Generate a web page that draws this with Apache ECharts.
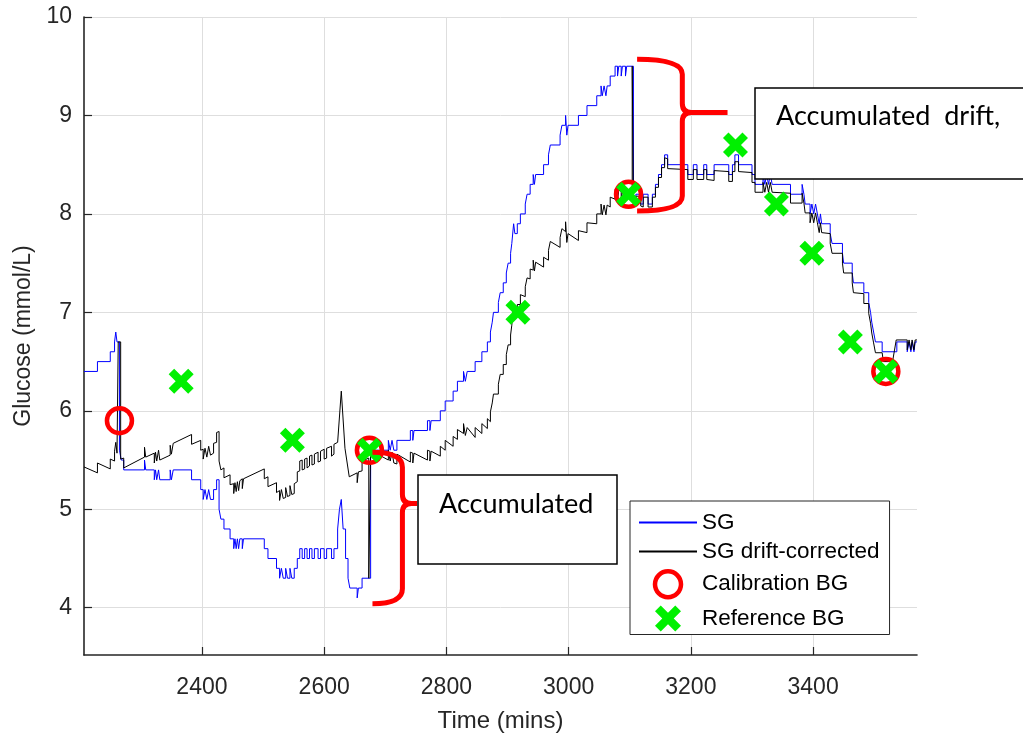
<!DOCTYPE html>
<html>
<head>
<meta charset="utf-8">
<title>Glucose drift correction</title>
<script src="https://cdn.jsdelivr.net/npm/echarts@6/dist/echarts.min.js"></script>
<style>
  html, body { margin: 0; padding: 0; background: #ffffff; }
  #chart { width: 1023px; height: 738px; }
</style>
</head>
<body>
<div id="chart"></div>
<script>
// Axis ticks
const timeTicks = [2400, 2600, 2800, 3000, 3200, 3400];
const glucoseTicks = [4, 5, 6, 7, 8, 9, 10];

// Sensor glucose (SG) as step breakpoints [time (min), mmol/L]; each value holds until the next point
const sgSeries = [
  [2207,6.4],[2229,6.5],[2250,6.6],[2257,6.7],[2259,6.8],[2261,6.7],[2265,5.6],[2268,5.5],[2272,5.4],
  [2306,5.5],[2308,5.4],[2322,5.3],[2324,5.4],[2326,5.3],[2329,5.4],[2331,5.3],[2348,5.4],[2350,5.3],[2353,5.4],
  [2383,5.3],[2398,5.2],[2402,5.1],[2405,5.2],[2408,5.1],[2411,5.2],[2414,5.1],[2419,5.2],[2424,5.3],
  [2428,5.0],[2431,4.9],[2436,4.8],[2446,4.7],[2452,4.6],[2454,4.7],[2456,4.6],[2458,4.7],[2460,4.6],[2462,4.7],[2466,4.6],[2468,4.7],
  [2502,4.6],[2508,4.5],[2522,4.4],[2527,4.3],[2530,4.4],[2533,4.3],[2537,4.4],[2540,4.3],[2544,4.4],[2547,4.3],[2551,4.4],
  [2556,4.5],[2560,4.6],[2564,4.5],[2568,4.6],[2572,4.5],[2576,4.6],[2580,4.5],[2584,4.6],[2590,4.5],[2594,4.6],[2600,4.5],[2604,4.6],[2612,4.5],[2616,4.6],
  [2622,4.8],[2625,5.0],[2628,5.1],[2631,4.8],[2635,4.5],[2639,4.3],[2642,4.2],[2654,4.1],[2656,4.2],[2662,4.3],[2676,5.6],
  [2705,5.7],[2708,5.6],[2711,5.7],[2714,5.6],[2719,5.7],[2741,5.8],[2745,5.7],[2747,5.8],[2769,5.9],[2773,5.8],[2775,5.9],
  [2790,6.0],[2798,6.1],[2811,6.2],[2818,6.3],[2828,6.4],[2831,6.3],[2834,6.4],[2847,6.5],[2858,6.6],[2867,6.7],[2872,6.8],[2875,6.9],[2877,7.0],
  [2885,7.1],[2888,7.2],[2893,7.3],[2898,7.4],[2901,7.5],[2905,7.6],[2907,7.7],[2910,7.9],[2912,7.8],[2916,7.9],[2921,8.0],
  [2929,8.1],[2932,8.2],[2937,8.3],[2942,8.4],[2944,8.3],[2946,8.4],[2959,8.5],[2967,8.6],[2970,8.7],[2986,8.8],[2989,8.9],[2995,9.0],[2997,8.8],[2999,8.9],
  [3016,9.0],[3030,9.1],[3046,9.2],[3053,9.3],[3055,9.2],[3058,9.3],[3061,9.2],[3063,9.3],[3068,9.4],[3076,9.5],[3080,9.4],[3082,9.5],[3086,9.4],[3088,9.5],[3093,9.4],[3095,9.5],
  [3106,8.1],[3110,8.2],[3118,8.1],[3122,8.2],[3130,8.1],[3137,8.2],[3142,8.3],[3147,8.4],[3152,8.5],[3157,8.6],[3162,8.5],
  [3195,8.4],[3204,8.5],[3210,8.4],[3221,8.5],[3226,8.4],[3238,8.5],[3262,8.4],[3268,8.5],[3272,8.6],[3278,8.5],
  [3300,8.4],[3305,8.3],[3318,8.4],[3321,8.3],[3324,8.4],[3327,8.3],[3330,8.4],[3333,8.3],[3363,8.2],[3382,8.3],[3385,8.2],[3387,8.1],
  [3395,8.0],[3398,8.1],[3401,8.0],[3404,8.1],[3407,8.0],[3410,7.9],[3412,8.0],[3414,7.9],[3428,7.8],[3431,7.7],[3448,7.6],[3450,7.5],
  [3464,7.4],[3466,7.3],[3483,7.2],[3491,7.1],[3494,7.0],[3496,6.9],[3499,6.8],[3502,6.7],[3513,6.6],[3537,6.7],
  [3554,6.6],[3557,6.7],[3560,6.6],[3562,6.7],[3565,6.6],[3567,6.7],[3570,6.7]
];

// Drift-corrected SG as line vertices [time (min), mmol/L]
const driftSeries = [
  [2207,5.43],[2229,5.37],[2229,5.47],[2250,5.41],[2250,5.51],[2257,5.49],[2257,5.59],[2259,5.58],[2259,5.68],[2261,5.67],[2261,5.57],[2263,5.57],[2263,6.70],[2267,6.70],[2267,5.51],[2272,5.52],[2272,5.42],
  [2306,5.53],[2306,5.63],[2308,5.63],[2308,5.53],[2322,5.57],[2322,5.47],[2324,5.48],[2324,5.58],[2326,5.59],[2326,5.49],[2329,5.50],[2329,5.60],[2331,5.60],[2331,5.50],
  [2348,5.55],[2348,5.65],[2350,5.66],[2350,5.56],[2353,5.57],[2353,5.67],[2383,5.76],[2383,5.66],[2398,5.70],[2398,5.60],[2402,5.61],[2402,5.51],[2405,5.52],[2405,5.62],
  [2408,5.63],[2408,5.53],[2411,5.54],[2411,5.64],[2414,5.65],[2414,5.55],[2419,5.57],[2419,5.67],[2424,5.68],[2424,5.78],[2428,5.79],[2428,5.49],[2431,5.50],[2431,5.40],
  [2436,5.42],[2436,5.32],[2446,5.35],[2446,5.25],[2452,5.26],[2452,5.16],[2454,5.17],[2454,5.27],[2456,5.28],[2456,5.18],[2458,5.18],[2458,5.28],[2460,5.29],[2460,5.19],
  [2462,5.19],[2462,5.29],[2466,5.31],[2466,5.21],[2468,5.21],[2468,5.31],[2502,5.41],[2502,5.31],[2508,5.33],[2508,5.23],[2522,5.27],[2522,5.17],[2527,5.19],[2527,5.09],
  [2530,5.10],[2530,5.20],[2533,5.21],[2533,5.11],[2537,5.12],[2537,5.22],[2540,5.23],[2540,5.13],[2544,5.14],[2544,5.24],[2547,5.25],[2547,5.15],[2551,5.16],[2551,5.26],
  [2556,5.28],[2556,5.38],[2560,5.39],[2560,5.49],[2564,5.50],[2564,5.40],[2568,5.41],[2568,5.51],[2572,5.52],[2572,5.42],[2576,5.44],[2576,5.54],[2580,5.55],[2580,5.45],
  [2584,5.46],[2584,5.56],[2590,5.58],[2590,5.48],[2594,5.49],[2594,5.59],[2600,5.61],[2600,5.51],[2604,5.52],[2604,5.62],[2612,5.64],[2612,5.54],[2616,5.56],[2616,5.66],
  [2622,5.68],[2628,6.20],[2634,5.62],[2641,5.33],[2654,5.37],[2654,5.27],[2656,5.28],[2656,5.38],[2662,5.39],[2662,5.49],[2673,5.52],[2673,4.30],[2676,4.30],[2676,5.60],
  [2705,5.50],[2705,5.60],[2708,5.59],[2708,5.49],[2711,5.48],[2711,5.58],[2714,5.57],[2714,5.47],[2719,5.46],[2719,5.56],[2741,5.48],[2741,5.58],[2745,5.57],[2745,5.47],
  [2747,5.47],[2747,5.57],[2769,5.50],[2769,5.60],[2773,5.59],[2773,5.49],[2775,5.49],[2775,5.59],[2790,5.54],[2790,5.64],[2798,5.60],[2798,5.70],[2811,5.64],[2811,5.74],
  [2818,5.71],[2818,5.81],[2828,5.77],[2828,5.87],[2831,5.85],[2831,5.75],[2834,5.73],[2834,5.83],[2847,5.73],[2847,5.83],[2858,5.77],[2858,5.87],[2867,5.82],[2867,5.92],
  [2872,5.89],[2872,5.99],[2875,5.98],[2875,6.08],[2877,6.07],[2877,6.17],[2885,6.17],[2885,6.27],[2888,6.27],[2888,6.37],[2893,6.37],[2893,6.47],[2898,6.47],[2898,6.57],
  [2901,6.57],[2901,6.67],[2905,6.67],[2905,6.77],[2907,6.77],[2907,6.87],[2910,6.88],[2910,7.08],[2912,7.08],[2912,6.98],[2916,6.98],[2916,7.08],[2921,7.08],[2921,7.18],
  [2929,7.16],[2929,7.26],[2932,7.25],[2932,7.35],[2937,7.34],[2937,7.44],[2942,7.43],[2942,7.53],[2944,7.52],[2944,7.42],[2946,7.41],[2946,7.51],[2959,7.46],[2959,7.56],
  [2967,7.53],[2967,7.63],[2970,7.62],[2970,7.72],[2986,7.66],[2986,7.76],[2989,7.75],[2989,7.85],[2995,7.82],[2995,7.92],[2997,7.91],[2997,7.71],[2999,7.70],[2999,7.80],
  [3016,7.73],[3016,7.83],[3030,7.81],[3030,7.91],[3046,7.90],[3046,8.00],[3053,8.00],[3053,8.10],[3055,8.09],[3055,7.99],[3058,7.99],[3058,8.09],[3061,8.09],[3061,7.99],
  [3063,7.99],[3063,8.09],[3068,8.07],[3068,8.17],[3076,8.15],[3076,8.25],[3080,8.24],[3080,8.14],[3082,8.14],[3082,8.24],[3086,8.23],[3086,8.13],[3088,8.13],[3088,8.23],
  [3093,8.22],[3093,8.12],[3095,8.12],[3095,8.22],[3104,8.20],[3104,9.50],[3106,9.50],[3106,8.10],
  [3110,8.08],[3110,8.18],[3118,8.18],[3118,8.08],[3122,8.07],[3122,8.17],[3130,8.17],[3130,8.07],[3137,8.07],[3137,8.17],[3142,8.17],[3142,8.27],
  [3147,8.27],[3147,8.37],[3152,8.37],[3152,8.47],[3157,8.47],[3157,8.57],[3162,8.56],[3162,8.46],[3195,8.45],[3195,8.35],[3204,8.35],[3204,8.45],
  [3210,8.45],[3210,8.35],[3221,8.35],[3221,8.45],[3226,8.45],[3226,8.35],[3238,8.34],[3238,8.44],[3262,8.43],[3262,8.33],[3268,8.33],[3268,8.43],
  [3272,8.43],[3272,8.53],[3278,8.53],[3278,8.43],[3300,8.42],[3300,8.32],[3305,8.32],[3305,8.22],[3318,8.22],[3318,8.32],[3321,8.32],[3321,8.22],
  [3324,8.22],[3324,8.32],[3327,8.32],[3327,8.22],[3330,8.22],[3330,8.32],[3333,8.32],[3333,8.22],[3363,8.21],[3363,8.11],[3382,8.11],[3382,8.21],
  [3385,8.21],[3385,8.11],[3387,8.11],[3387,8.01],[3395,8.01],[3395,7.91],[3398,7.91],[3398,8.01],[3401,8.01],[3401,7.91],[3404,7.91],[3404,8.01],
  [3407,8.01],[3407,7.91],[3410,7.91],[3410,7.81],[3412,7.81],[3412,7.91],[3414,7.91],[3414,7.81],[3428,7.80],[3428,7.70],[3431,7.70],[3431,7.60],
  [3448,7.60],[3448,7.50],[3450,7.50],[3450,7.40],[3464,7.40],[3464,7.30],[3466,7.30],[3466,7.20],[3483,7.19],[3483,7.09],[3491,7.09],[3491,6.99],
  [3494,6.99],[3494,6.89],[3496,6.89],[3496,6.79],[3499,6.79],[3499,6.69],[3502,6.69],[3502,6.59],[3513,6.59],[3515,6.50],[3530,6.50],[3536,6.72],
  [3554,6.72],[3554,6.62],[3557,6.62],[3557,6.72],[3560,6.72],[3560,6.62],[3562,6.62],[3562,6.72],[3565,6.72],[3565,6.62],[3567,6.62],[3567,6.72],[3570,6.72]
];

// Finger-stick blood glucose [time (min), mmol/L]
const calibrationBG = [[2265,5.9],[2674,5.6],[3098,8.2],[3519,6.4]];
const referenceBG = [[2366,6.3],[2548,5.7],[2674,5.6],[2917,7.0],[3098,8.2],[3273,8.7],[3340,8.1],[3398,7.6],[3461,6.7],[3519,6.4]];

// Drift braces: [arm start time, spine time, tip time, top mmol/L, tip mmol/L, bottom mmol/L]
const driftBraces = [
  [2679, 2728, 2752, 5.58, 5.06, 4.04],
  [3112, 3186, 3260, 9.57, 9.03, 8.03]
];

const TEXT = '#262626';
const FONT = 'Liberation Sans';
const crossSymbol = 'path://M0,2.2 L2.2,0 L5,2.8 L7.8,0 L10,2.2 L7.2,5 L10,7.8 L7.8,10 L5,7.2 L2.2,10 L0,7.8 L2.8,5 Z';
const hiddenMarker = { color: 'rgba(0,0,0,0)', borderWidth: 0 };

const chart = echarts.init(document.getElementById('chart'), null, { renderer: 'canvas' });

function renderBrace(params, api) {
  const top = api.coord([api.value(0), api.value(3)]);
  const mid = api.coord([api.value(2), api.value(4)]);
  const bot = api.coord([api.value(0), api.value(5)]);
  const xv = api.coord([api.value(1), api.value(4)])[0];
  const xa = top[0], xt = mid[0];
  const yT = top[1], yM = mid[1], yB = bot[1];
  const r = 15, rt = 9;
  const d = [
    'M', xa, yT, 'Q', xv, yT, xv, yT + r,
    'L', xv, yM - rt, 'Q', xv, yM, xv + rt, yM, 'L', xt, yM,
    'M', xv + rt, yM, 'Q', xv, yM, xv, yM + rt,
    'L', xv, yB - r, 'Q', xv, yB, xa, yB
  ].join(' ');
  return {
    type: 'path',
    shape: { pathData: d },
    style: { fill: 'none', stroke: '#ff0000', lineWidth: 5, lineJoin: 'round' }
  };
}

const option = {
  animation: false,
  backgroundColor: '#ffffff',
  grid: { left: 84, top: 17, width: 833, height: 642, containLabel: false },
  xAxis: {
    type: 'value', min: 2207, max: 3570,
    name: 'Time (mins)', nameLocation: 'middle', nameGap: 54,
    nameTextStyle: { fontFamily: FONT, fontSize: 24, color: TEXT, lineHeight: 24 },
    axisLine: { show: true, onZero: false, lineStyle: { color: TEXT, width: 1.6 } },
    axisTick: { show: true, inside: true, length: 8, customValues: timeTicks, lineStyle: { color: TEXT, width: 1.2 } },
    axisLabel: { customValues: timeTicks, formatter: v => String(v), fontFamily: FONT, fontSize: 23, color: TEXT, margin: 21, lineHeight: 23 },
    splitLine: { show: true, lineStyle: { color: '#dedede', width: 1 } }
  },
  yAxis: {
    type: 'value', min: 3.52, max: 10,
    name: 'Glucose (mmol/L)', nameLocation: 'middle', nameGap: 49, nameRotate: 90,
    nameTextStyle: { fontFamily: FONT, fontSize: 23, color: TEXT, lineHeight: 23 },
    axisLine: { show: true, onZero: false, lineStyle: { color: TEXT, width: 1.6 } },
    axisTick: { show: true, inside: true, length: 8, customValues: glucoseTicks, lineStyle: { color: TEXT, width: 1.2 } },
    axisLabel: { customValues: glucoseTicks, formatter: v => String(v), fontFamily: FONT, fontSize: 23, color: TEXT, margin: 12 },
    splitLine: { show: true, lineStyle: { color: '#dedede', width: 1 } }
  },
  legend: {
    orient: 'vertical', left: 630, top: 501,
    itemWidth: 58, itemHeight: 26, itemGap: 6,
    padding: [10, 10, 3, 8],
    backgroundColor: '#ffffff', borderColor: TEXT, borderWidth: 1, borderRadius: 0,
    textStyle: { fontFamily: FONT, fontSize: 22.5, color: '#000000' },
    data: [
      { name: 'SG', itemStyle: hiddenMarker },
      { name: 'SG drift-corrected', itemStyle: hiddenMarker },
      { name: 'Calibration BG', itemStyle: { color: 'rgba(0,0,0,0)', borderColor: '#ff0000', borderWidth: 4.5, opacity: 1 } },
      { name: 'Reference BG', itemStyle: { color: '#00f000', borderWidth: 0, opacity: 1 } }
    ]
  },
  graphic: [
    { type: 'rect', z: 100, shape: { x: 418, y: 475, width: 199, height: 89 },
      style: { fill: '#ffffff', stroke: '#000000', lineWidth: 1.5 } },
    { type: 'text', z: 101, x: 439, y: 504,
      style: { text: 'Accumulated', fontFamily: 'Lato', fontSize: 27, fill: '#000000', verticalAlign: 'middle' } },
    { type: 'rect', z: 100, shape: { x: 755, y: 88, width: 300, height: 91 },
      style: { fill: '#ffffff', stroke: '#000000', lineWidth: 1.5 } },
    { type: 'text', z: 101, x: 776, y: 116,
      style: { text: 'Accumulated  drift,', fontFamily: 'Lato', fontSize: 27, fill: '#000000', verticalAlign: 'middle' } }
  ],
  series: [
    {
      name: 'SG', type: 'line', step: 'end', data: sgSeries,
      symbol: 'none', z: 2,
      itemStyle: { color: '#0000ff' },
      lineStyle: { color: '#0000ff', width: 1 }
    },
    {
      name: 'SG drift-corrected', type: 'line', data: driftSeries,
      symbol: 'none', z: 3,
      itemStyle: { color: '#000000' },
      lineStyle: { color: '#000000', width: 1 }
    },
    {
      name: 'Calibration BG', type: 'scatter', data: calibrationBG,
      symbol: 'circle', symbolSize: 25, z: 4,
      itemStyle: { color: 'rgba(0,0,0,0)', borderColor: '#ff0000', borderWidth: 4.5, opacity: 1 }
    },
    {
      name: 'Reference BG', type: 'scatter', data: referenceBG,
      symbol: crossSymbol, symbolSize: 25, z: 5,
      itemStyle: { color: '#00f000', opacity: 1 }
    },
    {
      name: 'drift braces', type: 'custom', data: driftBraces,
      encode: { x: [0, 1, 2], y: [3, 4, 5] },
      renderItem: renderBrace, silent: true, clip: false, z: 6
    }
  ]
};

chart.setOption(option);
</script>
</body>
</html>
